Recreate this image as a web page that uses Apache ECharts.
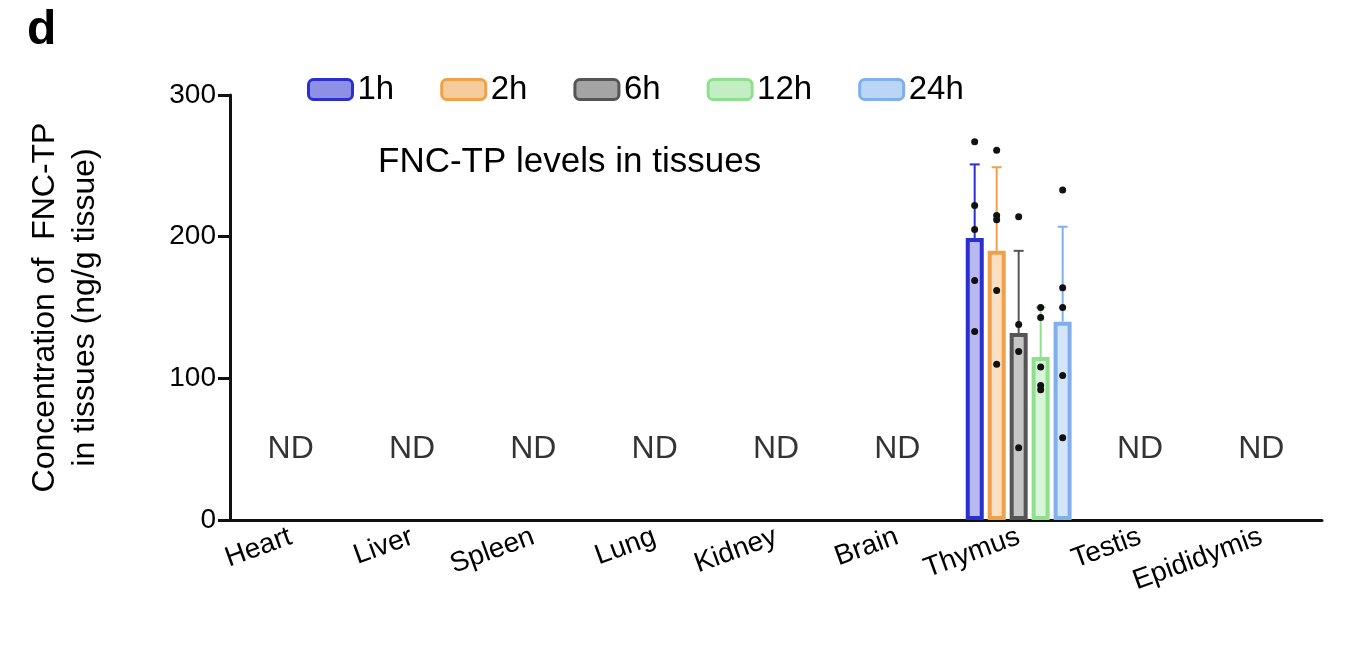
<!DOCTYPE html><html><head><meta charset="utf-8"><script src="https://cdn.jsdelivr.net/npm/echarts@6/dist/echarts.min.js"></script>
<style>body{margin:0;background:#fff}#c{width:1354px;height:652px}</style></head><body><div id="c"></div><script>
const categories=['Heart','Liver','Spleen','Lung','Kidney','Brain','Thymus','Testis','Epididymis'];
const groups=['1h','2h','6h','12h','24h'];
const colors=['#2b2fd0','#f0a048','#555555','#8ee08e','#7fb0ec'];
const means=[199,190,132,115,140];
const errTop=[251,249,190,150,207];
const points=[[267,222,205,169,133],[261,215,212,162,110],[214,138,119,51],[150,143,108,95,92],[233,164,150,102,58]];
const ndCats=['Heart','Liver','Spleen','Lung','Kidney','Brain','Testis','Epididymis'];
const ndValue=50;
const thymus=6, bw=18, step=22;
const F='Liberation Sans';
const series=groups.map((g,i)=>({name:g,type:'bar',barWidth:bw,barGap:'22%',
 data:categories.map((c,k)=>k===thymus?means[i]:null),
 itemStyle:{color:colors[i]+'55',borderColor:colors[i],borderWidth:4}}));
series.push({type:'custom',silent:true,z:5,data:groups.map((g,i)=>[i]),
 renderItem:(p,api)=>{const i=api.value(0);const off=(i-2)*step;
  const b=api.coord([thymus,means[i]]),t=api.coord([thymus,errTop[i]]);const x=b[0]+off;
  const ch=[{type:'line',shape:{x1:x,y1:b[1],x2:x,y2:t[1]},style:{stroke:colors[i],lineWidth:2}},
   {type:'line',shape:{x1:x-5,y1:t[1],x2:x+5,y2:t[1]},style:{stroke:colors[i],lineWidth:2}}];
  points[i].forEach(v=>{const q=api.coord([thymus,v]);ch.push({type:'circle',shape:{cx:x,cy:q[1],r:3.5},style:{fill:'#111'}});});
  return {type:'group',children:ch};}});
series.push({type:'scatter',symbolSize:0,data:ndCats.map(c=>[c,ndValue]),
 label:{show:true,formatter:'ND',position:'inside',color:'#000',fontSize:32,fontFamily:F}});
const ch=echarts.init(document.getElementById('c'));
ch.setOption({animation:false,
 title:[{text:'d',left:22,top:2,textStyle:{fontSize:48,fontWeight:'bold',color:'#000',fontFamily:F}},
  {text:'FNC-TP levels in tissues',left:373,top:140,textStyle:{fontSize:35,fontWeight:'normal',color:'#000',fontFamily:F}}],
 legend:{data:groups.map((g,i)=>({name:g,itemStyle:{color:colors[i]+'88',borderColor:colors[i],borderWidth:3}})),left:302,top:68,itemWidth:44,itemHeight:20,itemGap:46,
  textStyle:{fontSize:33,color:'#000',fontFamily:F}},
 grid:{left:230,right:32,top:95,bottom:132},
 xAxis:{type:'category',data:categories,axisLine:{lineStyle:{color:'#111',width:3}},axisTick:{alignWithLabel:true,length:10,lineStyle:{width:3}},
  axisLabel:{rotate:20,fontSize:28,color:'#000',fontFamily:F,margin:16,interval:0}},
 yAxis:{type:'value',min:0,max:300,interval:100,splitLine:{show:false},axisLine:{show:true,lineStyle:{color:'#111',width:3}},
  axisTick:{show:true,length:12,lineStyle:{width:3}},axisLabel:{fontSize:28,color:'#000',fontFamily:F,margin:14},
  name:'Concentration of  FNC-TP\nin tissues (ng/g tissue)',nameLocation:'middle',nameGap:125,nameRotate:90,
  nameTextStyle:{fontSize:32,color:'#000',fontFamily:F,lineHeight:40}},
 series});
</script></body></html>
